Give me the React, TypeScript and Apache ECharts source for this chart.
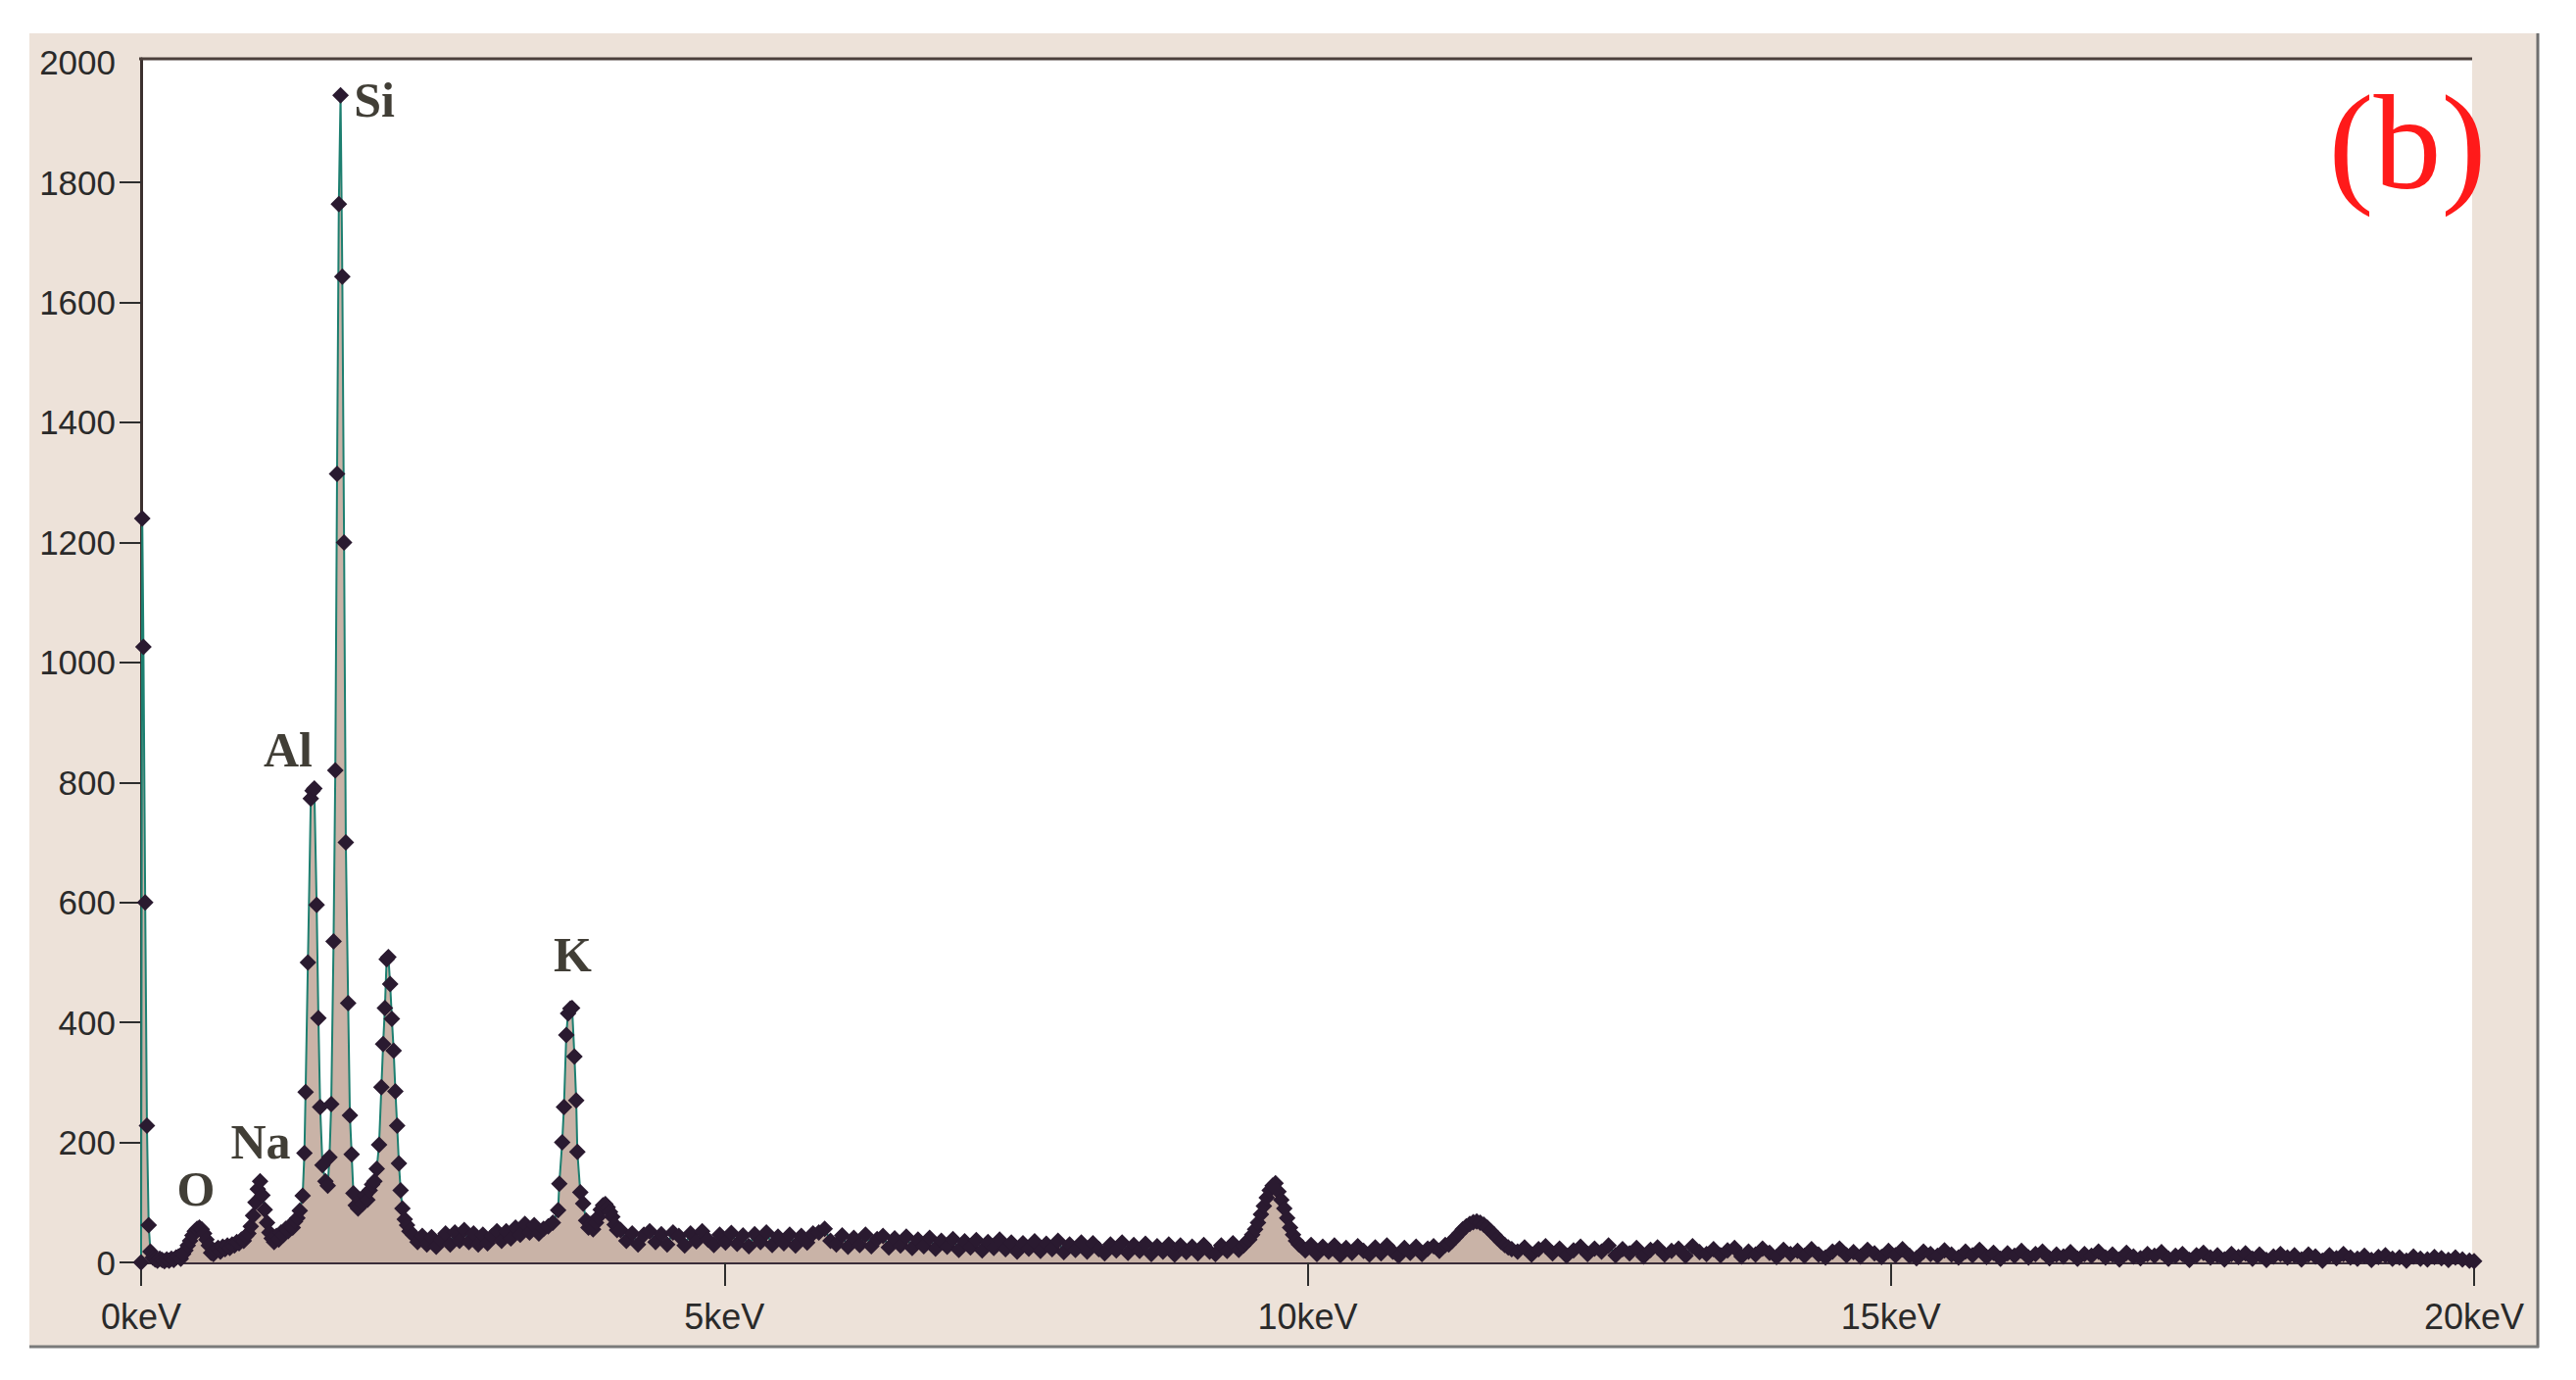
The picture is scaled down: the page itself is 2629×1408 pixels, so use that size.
import React, { useEffect, useRef } from "react";
import * as echarts from "echarts";

// ---------- DATA (energy in keV, counts) ----------
// Explicitly read points: zero-energy spike, O and Na region
const lowEnergyPoints: [number, number][] = [
  [0.0, 0], [0.01, 1240], [0.02, 1026], [0.035, 600], [0.05, 228], [0.065, 62], [0.08, 18],
  [0.1, 8], [0.12, 5], [0.14, 3], [0.16, 6], [0.18, 4], [0.2, 2], [0.22, 5], [0.24, 3],
  [0.26, 6], [0.28, 4], [0.3, 8], [0.32, 10], [0.34, 6], [0.36, 14],
  [0.38, 20], [0.4, 28], [0.42, 36], [0.44, 45], [0.46, 52], [0.48, 56], [0.5, 58],
  [0.52, 55], [0.54, 48], [0.56, 38], [0.58, 28], [0.6, 16], [0.62, 14],
  [0.64, 20], [0.66, 24], [0.68, 18], [0.7, 26], [0.72, 22], [0.74, 28], [0.76, 24],
  [0.78, 30], [0.8, 28], [0.82, 34], [0.84, 32], [0.86, 38], [0.88, 36], [0.9, 44],
  [0.92, 48], [0.94, 60], [0.96, 78], [0.98, 100], [1.0, 122], [1.02, 135], [1.04, 112],
  [1.06, 88], [1.08, 66], [1.1, 50], [1.12, 40], [1.14, 34], [1.16, 44], [1.18, 38],
  [1.2, 50], [1.22, 46], [1.24, 56], [1.26, 52], [1.28, 62], [1.3, 58], [1.32, 68],
  [1.34, 74], [1.36, 86],
];

// Al, Si and the 2.1 keV peak
const alSiPoints: [number, number][] = [
  [1.385, 111], [1.4, 182], [1.41, 284], [1.43, 500], [1.455, 773], [1.47, 786], [1.485, 790],
  [1.505, 596], [1.52, 407], [1.535, 259], [1.555, 162], [1.58, 135], [1.6, 128], [1.615, 175],
  [1.63, 264], [1.65, 535], [1.665, 820], [1.68, 1314], [1.695, 1764], [1.71, 1945],
  [1.725, 1643], [1.74, 1200], [1.755, 700], [1.775, 432], [1.79, 245], [1.805, 180],
  [1.82, 115], [1.84, 95], [1.86, 90], [1.88, 105], [1.9, 98], [1.92, 112], [1.94, 104],
  [1.96, 120], [1.98, 130], [2.0, 135], [2.02, 156], [2.04, 196], [2.06, 292], [2.075, 364],
  [2.09, 424], [2.105, 505], [2.12, 509], [2.135, 464], [2.15, 406], [2.165, 353],
  [2.18, 285], [2.195, 228], [2.21, 165], [2.225, 120], [2.24, 90], [2.26, 72], [2.28, 62],
  [2.3, 52],
];

// background between 2.1 keV peak and K peak
const bgAStart = 2.33;
const bgAStep = 0.04;
const bgACounts: number[] = [
  46, 34, 44, 30, 42, 26, 38, 48, 30, 50, 36, 54, 34, 48, 30, 46, 32, 44, 52, 36,
  52, 40, 58, 46, 64, 50, 62, 48, 56, 60, 66,
];

// K peak and the small peak beside it
const kPoints: [number, number][] = [
  [3.575, 87], [3.585, 131], [3.61, 200], [3.625, 259], [3.645, 379], [3.66, 415], [3.68, 423],
  [3.695, 424], [3.715, 343], [3.73, 270], [3.74, 184], [3.765, 117], [3.79, 98], [3.815, 70],
  [3.835, 58], [3.855, 64], [3.875, 55], [3.9, 66], [3.92, 76], [3.94, 88], [3.96, 95],
  [3.98, 97], [4.0, 92], [4.02, 84], [4.04, 76], [4.06, 63], [4.08, 54],
];

// background 4.1 – 9.4 keV
const bgBStart = 4.11;
const bgBStep = 0.05;
const bgBCounts: number[] = [
  54, 36, 48, 30, 46, 52, 34, 47, 30, 50,
  44, 28, 48, 35, 52, 38, 29, 46, 33, 49,
  31, 45, 27, 47, 34, 50, 29, 43, 32, 46,
  28, 44, 33, 48, 50, 56, 36, 30, 45, 26,
  41, 29, 46, 27, 39, 44, 25, 40, 28, 43,
  24, 38, 27, 41, 23, 36, 26, 39, 21, 35,
  25, 37, 20, 34, 24, 38, 22, 33, 18, 32,
  23, 35, 19, 31, 22, 36, 17, 30, 21, 33,
  18, 32, 22, 15, 30, 20, 33, 16, 29, 19,
  31, 14, 27, 18, 30, 13, 28, 17, 26, 15,
  29, 18, 14, 28, 19, 32, 21,
];

// peak near 9.7 keV
const peakCStart = 9.45;
const peakCStep = 0.025;
const peakCCounts: number[] = [
  28, 34, 38, 46, 55, 66, 80, 94, 108, 120, 128, 132, 118, 104, 90, 74, 58, 46, 36, 30, 26,
];

// background 10 – 11.2 keV
const bgDStart = 9.98;
const bgDStep = 0.05;
const bgDCounts: number[] = [
  20, 29, 14, 26, 18, 28, 12, 24, 16, 27, 19, 13, 25, 15, 28, 18, 11, 24, 16, 26,
  14, 23, 27, 19, 29,
];

// peak near 11.45 keV
const peakEStart = 11.21;
const peakEStep = 0.03;
const peakECounts: number[] = [
  30, 36, 42, 48, 55, 60, 64, 67, 68, 66, 63, 58, 52, 46, 40, 34, 29, 25, 22,
];

// background 11.8 – 20 keV
const bgFStart = 11.8;
const bgFStep = 0.06;
const bgFCounts: number[] = [
  18, 25, 13, 22, 27, 15, 23, 11, 20, 26,
  14, 23, 18, 28, 12, 22, 15, 24, 10, 21,
  25, 13, 19, 23, 11, 27, 17, 14, 22, 12,
  20, 24, 10, 18, 13, 23, 16, 9, 21, 14,
  19, 11, 22, 13, 8, 18, 23, 12, 17, 10,
  21, 15, 9, 19, 12, 22, 11, 7, 18, 14,
  11, 20, 13, 8, 18, 12, 21, 9, 16, 6,
  15, 11, 19, 8, 14, 18, 7, 13, 10, 17,
  6, 14, 11, 18, 8, 13, 5, 16, 10, 7,
  14, 11, 17, 6, 11, 14, 4, 12, 16, 8,
  12, 5, 14, 9, 15, 6, 13, 4, 10, 14,
  8, 12, 5, 13, 10, 3, 12, 7, 14, 8,
  6, 11, 4, 9, 12, 6, 8, 3, 10, 6,
  5, 9, 7, 4, 8, 5, 3,
];
const endPoint: [number, number][] = [[20.0, 2]];

// element annotations (keV, counts)
const elementLabels = ["O", "Na", "Al", "Si", "K"];
const elementLabelPos: [number, number][] = [
  [0.47, 123], [1.025, 201], [1.26, 854], [2.0, 1938], [3.7, 513],
];

// axis ticks
const yLabelValues = [0, 200, 400, 600, 800, 1000, 1200, 1400, 1600, 1800, 2000];
const yTickValues = [0, 200, 400, 600, 800, 1000, 1200, 1400, 1600, 1800];
const xTickUnit = "keV";
const panelTag = "(b)";

function channels(start: number, step: number, counts: number[]): [number, number][] {
  return counts.map((c, i) => [Math.round((start + i * step) * 1000) / 1000, c]);
}

const spectrum: [number, number][] = [
  ...lowEnergyPoints,
  ...alSiPoints,
  ...channels(bgAStart, bgAStep, bgACounts),
  ...kPoints,
  ...channels(bgBStart, bgBStep, bgBCounts),
  ...channels(peakCStart, peakCStep, peakCCounts),
  ...channels(bgDStart, bgDStep, bgDCounts),
  ...channels(peakEStart, peakEStep, peakECounts),
  ...channels(bgFStart, bgFStep, bgFCounts),
  ...endPoint,
];

const SANS = "'Liberation Sans', Arial, Helvetica, sans-serif";
const SERIF = "'Liberation Serif', 'Times New Roman', Times, serif";

export default function App() {
  const ref = useRef<HTMLDivElement>(null);

  useEffect(() => {
    if (!ref.current) return;
    const chart = echarts.init(ref.current, undefined, { renderer: "svg" });

    const option: any = {
      animation: false,
      backgroundColor: "#ffffff",
      grid: { left: 144, right: 104, top: 60, bottom: 120, containLabel: false },
      xAxis: {
        type: "value",
        min: 0,
        max: 20,
        interval: 5,
        axisLine: { show: true, lineStyle: { color: "#3a2d3a", width: 3 } },
        axisTick: { show: true, length: 24, lineStyle: { color: "#2e2e2e", width: 2 } },
        axisLabel: {
          formatter: (v: number) => `${v}${xTickUnit}`,
          fontSize: 36,
          fontFamily: SANS,
          color: "#2a2a2a",
          margin: 37,
        },
        splitLine: { show: false },
      },
      yAxis: {
        type: "value",
        min: 0,
        max: 2006,
        interval: 200,
        axisLine: { show: true, lineStyle: { color: "#3b302e", width: 3 } },
        axisTick: {
          show: true,
          length: 22,
          customValues: yTickValues,
          lineStyle: { color: "#2e2e2e", width: 2 },
        },
        axisLabel: {
          customValues: yLabelValues,
          formatter: (v: number) => String(v),
          fontSize: 35,
          fontFamily: SANS,
          color: "#2a2a2a",
          margin: 26,
        },
        splitLine: { show: false },
      },
      graphic: [
        {
          type: "rect",
          z: -10,
          silent: true,
          shape: { x: 30, y: 34, width: 2560, height: 1340 },
          style: { fill: "#ede2d9" },
        },
        {
          type: "rect",
          z: -9,
          silent: true,
          shape: { x: 144, y: 60, width: 2379, height: 1228 },
          style: { fill: "#ffffff" },
        },
        {
          type: "line",
          z: 5,
          silent: true,
          shape: { x1: 142, y1: 60, x2: 2523, y2: 60 },
          style: { stroke: "#4b3f3b", lineWidth: 3 },
        },
        {
          type: "line",
          z: 5,
          silent: true,
          shape: { x1: 2590, y1: 34, x2: 2590, y2: 1375 },
          style: { stroke: "#6f6f6f", lineWidth: 3 },
        },
        {
          type: "line",
          z: 5,
          silent: true,
          shape: { x1: 30, y1: 1374, x2: 2591, y2: 1374 },
          style: { stroke: "#7a7a7a", lineWidth: 3 },
        },
        {
          type: "text",
          z: 100,
          silent: true,
          x: 2457,
          y: 145,
          style: {
            text: panelTag,
            fill: "#ff1a1a",
            font: `138px ${SERIF}`,
            textAlign: "center",
            textVerticalAlign: "middle",
          },
        },
      ],
      series: [
        {
          type: "line",
          data: spectrum,
          showAllSymbol: true,
          symbol: "diamond",
          symbolSize: 17,
          itemStyle: { color: "#2a1a30", borderWidth: 0 },
          lineStyle: { color: "#1d7f70", width: 2 },
          areaStyle: { color: "#c9b3a7", opacity: 1 },
          z: 3,
          silent: true,
        },
        {
          type: "scatter",
          data: elementLabels.map((n, i) => ({ name: n, value: elementLabelPos[i] })),
          symbol: "circle",
          symbolSize: 1,
          itemStyle: { color: "rgba(0,0,0,0)" },
          label: {
            show: true,
            position: "inside",
            formatter: "{b}",
            fontFamily: SERIF,
            fontWeight: "bold",
            fontSize: 50,
            color: "#120e04",
          },
          z: 10,
          silent: true,
        },
      ],
    };

    chart.setOption(option);
    return () => chart.dispose();
  }, []);

  return (
    <div
      ref={ref}
      style={{
        position: "fixed",
        left: 0,
        top: 0,
        width: 2629,
        height: 1408,
        background: "#ffffff",
      }}
    />
  );
}
